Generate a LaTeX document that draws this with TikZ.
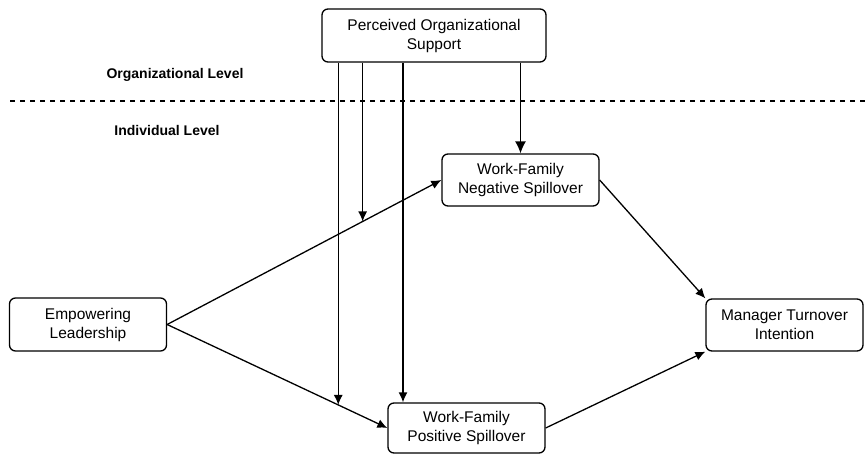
\documentclass[tikz,border=0pt]{standalone}
\usepackage{fontspec}
\setmainfont{Liberation Sans}
\usetikzlibrary{arrows.meta,calc}

\tikzset{
  box/.style={draw, fill=white, rounded corners=6pt, line width=1.3pt, align=center,
    inner sep=0pt, minimum width=157pt, minimum height=52pt,
    font=\fontsize{15.5}{19}\selectfont},
  level/.style={font=\bfseries\fontsize{14}{17}\selectfont},
  arr/.style={line width=1.3pt, -{Latex[length=10pt,width=9pt]}},
  bigarr/.style={line width=1.3pt, -{Latex[length=12pt,width=11pt]}}
}

\begin{document}
\begin{tikzpicture}[x=1pt,y=-1pt]
  \useasboundingbox (0,0) rectangle (865,455);
  \node[box, minimum width=224pt, minimum height=53pt] (POS) at (434,35.5) {Perceived Organizational\\Support};
  \node[box] (WFNS) at (520.5,180) {Work-Family\\Negative Spillover};
  \node[box, minimum height=53pt] (EL) at (88,324.5) {Empowering\\Leadership};
  \node[box, minimum height=50pt] (WFPS) at (466.5,428) {Work-Family\\Positive Spillover};
  \node[box] (MTI) at (784.5,325) {Manager Turnover\\Intention};
  \node[level] (org) at (175,75) {Organizational Level};
  \node[level] (ind) at (167,130) {Individual Level};
  \coordinate (dl) at (10,101);
  \coordinate (dr) at (865,101);
  \draw[dash pattern=on 5pt off 5pt, line width=1.1pt] (dl) -- (dr);
  \draw[arr] (EL.east) -- (WFNS.west);
  \draw[arr] (EL.east) -- (WFPS.west);
  \draw[arr] (WFNS.east) -- (MTI.north west);
  \draw[arr] (WFPS.east) -- (MTI.south west);
  \coordinate (m1) at ($(EL.east)!0.777!(WFPS.west)$);
  \coordinate (m2) at ($(EL.east)!0.713!(WFNS.west)$);
  \coordinate (c3) at (403,0);
  \draw[arr] (POS.south -| m1) -- (m1);
  \draw[arr] (POS.south -| m2) -- (m2);
  \draw[arr] (POS.south -| c3) -- (WFPS.north -| c3);
  \draw[bigarr] (POS.south -| WFNS.north) -- (WFNS.north);
\end{tikzpicture}
\end{document}
